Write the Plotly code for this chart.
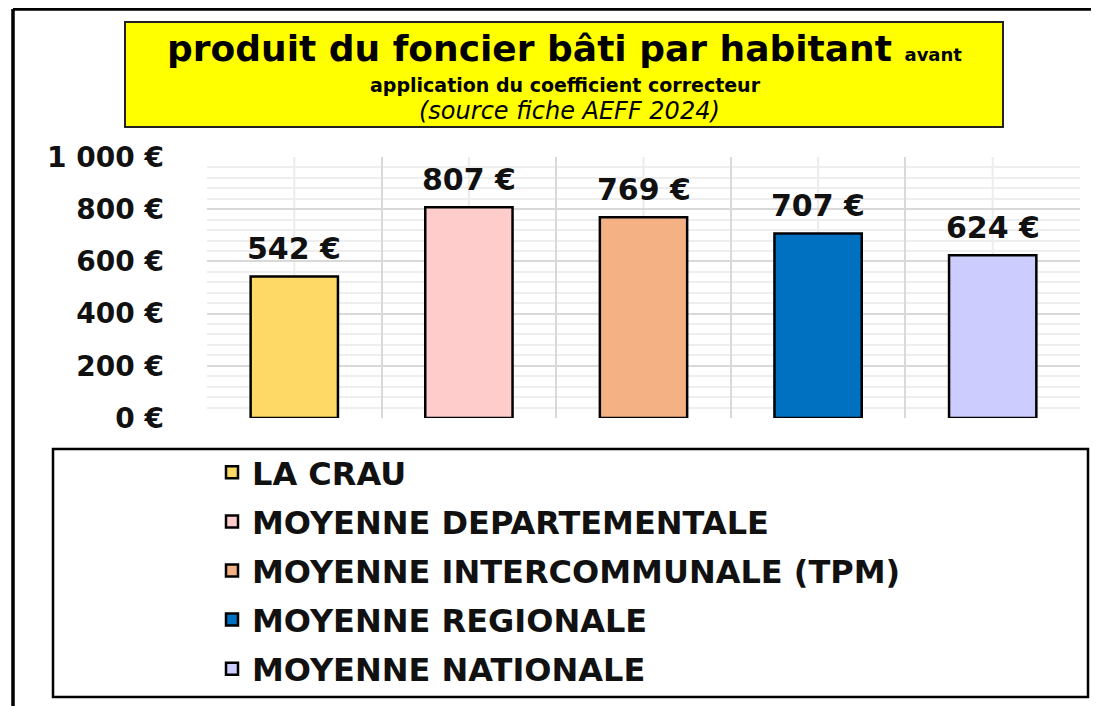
import plotly.graph_objects as go

categories = ["LA CRAU", "MOYENNE DEPARTEMENTALE", "MOYENNE INTERCOMMUNALE (TPM)",
              "MOYENNE REGIONALE", "MOYENNE NATIONALE"]
values = [542, 807, 769, 707, 624]
colors = ["#FFD966", "#FFCCCC", "#F4B183", "#0070C0", "#CCCCFF"]
y_ticks = [0, 200, 400, 600, 800, 1000]
y_tick_text = [f"{v:,}".replace(",", " ") + " €" for v in y_ticks]

# page body adds an 8px margin, so work in reference pixels and shift
O = 8
W, H = 1099 - O, 706 - O
PL, PR, PT, PB = 207 - O, 1080 - O, 157 - O, 418 - O  # plot area in figure px
L, R, T, B = PL, W - PR, PT, H - PB
PW, PH = PR - PL, PB - PT


def px(x):
    return (x - O - PL) / PW


def py(y):
    return (PB - (y - O)) / PH


fig = go.Figure()
for i, (c, v, col) in enumerate(zip(categories, values, colors)):
    fig.add_trace(go.Bar(
        x=[c], y=[v], name=c, width=0.5,
        marker=dict(color=col, line=dict(color="black", width=2.5)),
        legendgroup=f"g{i}", hoverinfo="skip",
    ))
    fig.add_annotation(x=c, y=v, text=f"{v} €", showarrow=False,
                       yanchor="middle", yshift=28,
                       font=dict(family="DejaVu Sans", size=30, color="#111", weight="bold"))
    fig.add_vline(x=c, line=dict(color="#ececec", width=2), layer="below")

fig.update_layout(
    width=W, height=H,
    margin=dict(l=L, r=R, t=T, b=B, autoexpand=False),
    paper_bgcolor="white", plot_bgcolor="white",
    barmode="overlay",
    showlegend=True,
    legend=dict(
        x=px(212), y=py(445), xanchor="left", yanchor="top",
        font=dict(family="DejaVu Sans", size=32, color="#111", weight="bold"),
        tracegroupgap=4.5, bgcolor="rgba(0,0,0,0)", borderwidth=0,
        itemclick=False, itemdoubleclick=False,
    ),
    xaxis=dict(
        type="category", showticklabels=False, tickson="boundaries",
        showgrid=True, gridcolor="#d9d9d9", gridwidth=2, automargin=False,
        showline=False, zeroline=False, ticks="",
    ),
    yaxis=dict(
        range=[0, 1000], tickvals=y_ticks, ticktext=y_tick_text, automargin=False,
        showgrid=True, gridcolor="#d9d9d9", gridwidth=2,
        minor=dict(dtick=40, showgrid=True, gridcolor="#eeeeee", gridwidth=1.5),
        zeroline=False, showline=False, ticks="",
        ticklabelstandoff=42,
        tickfont=dict(family="DejaVu Sans", size=28, color="#111", weight="bold"),
    ),
)

# outer frame (top and left lines)
fig.add_shape(type="line", xref="paper", yref="paper", x0=px(13), x1=px(1110),
              y0=py(9), y1=py(9), line=dict(color="black", width=3.5))
fig.add_shape(type="line", xref="paper", yref="paper", x0=px(13), x1=px(13),
              y0=py(9), y1=py(720), line=dict(color="black", width=3.5))
# legend box
fig.add_shape(type="rect", xref="paper", yref="paper", x0=px(53), x1=px(1088),
              y0=py(449), y1=py(697), line=dict(color="black", width=2.5),
              fillcolor="rgba(0,0,0,0)")
# title box
fig.add_shape(type="rect", xref="paper", yref="paper", x0=px(125), x1=px(1003),
              y0=py(22), y1=py(127), line=dict(color="#222", width=2),
              fillcolor="#FFFF00")

fig.add_annotation(xref="paper", yref="paper", x=px(564), y=py(48.5), showarrow=False,
                   xanchor="center", yanchor="middle", borderpad=0,
                   text="produit du foncier bâti par habitant <span style='font-size:18px'>avant</span>",
                   font=dict(family="DejaVu Sans", size=36, color="black", weight="bold"))
fig.add_annotation(xref="paper", yref="paper", x=px(565), y=py(84.5), showarrow=False,
                   xanchor="center", yanchor="middle", borderpad=0,
                   text="application du coefficient correcteur",
                   font=dict(family="DejaVu Sans", size=19, color="black", weight="bold"))
fig.add_annotation(xref="paper", yref="paper", x=px(569), y=py(111), showarrow=False,
                   xanchor="center", yanchor="middle", borderpad=0,
                   text="(source fiche AEFF 2024)",
                   font=dict(family="DejaVu Sans", size=24, color="black", style="italic"))

fig.write_html("out.html")
